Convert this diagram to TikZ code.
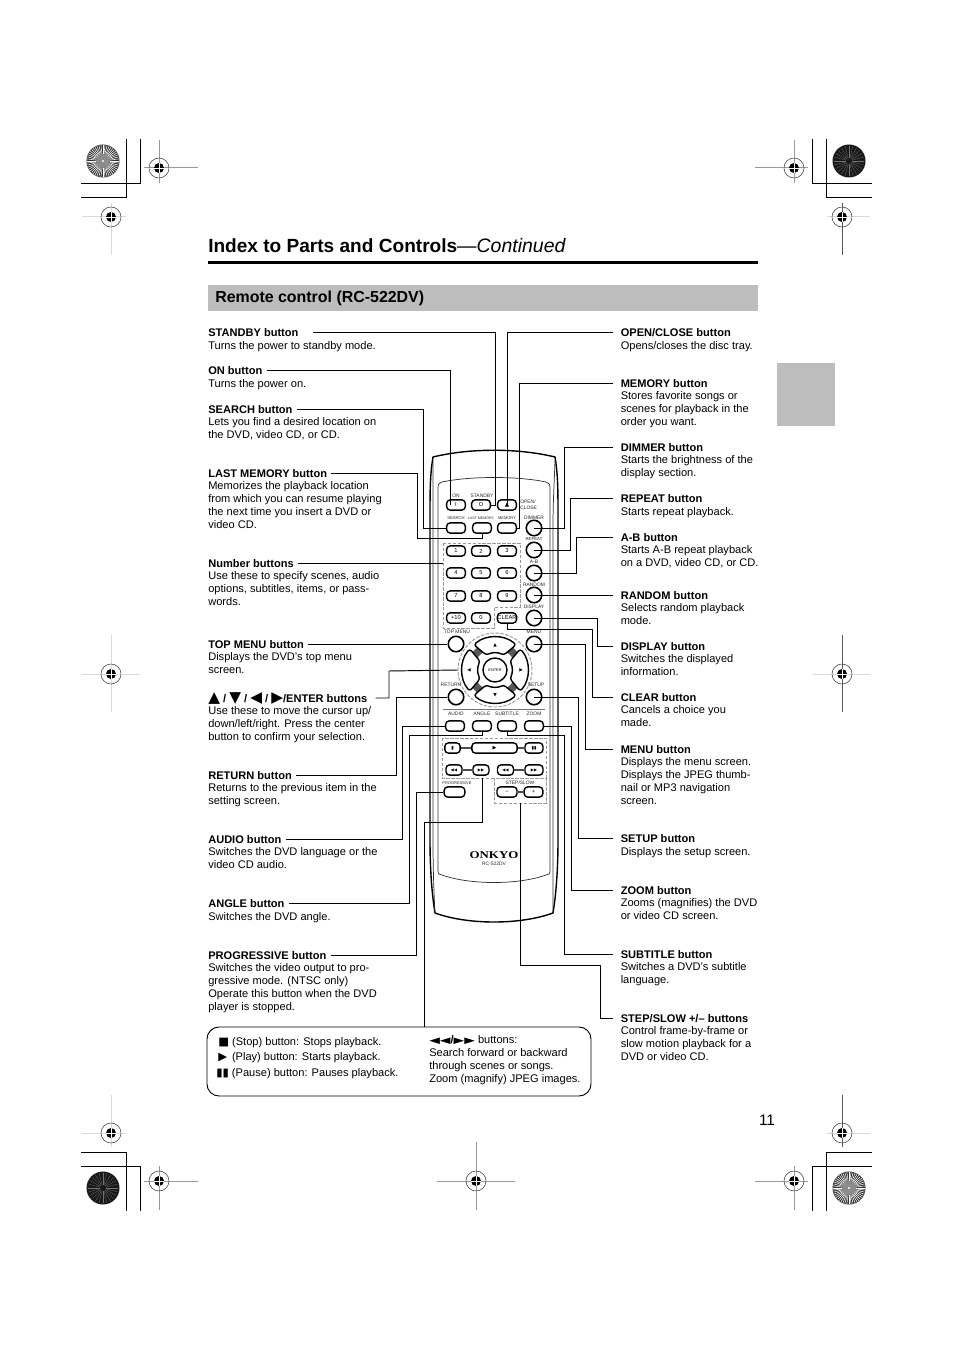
\documentclass[tikz,border=0pt]{standalone}
\usepackage{fontspec}
\setmainfont{Liberation Sans}
\newfontfamily\symfont{DejaVu Sans}
\newfontfamily\logofont{Liberation Serif}
\usetikzlibrary{positioning}
\newcommand\rmtiny{\fontsize{3.7}{4.2}\selectfont}
\newcommand\lblsize{\fontsize{8.3}{9.6}\selectfont}
\newcommand\titlesym[1]{{\symfont\fontsize{11.5}{9}\selectfont #1}}
\newcommand\seeksym[1]{\scalebox{1.6}[1]{\symfont\fontsize{6.5}{9}\selectfont #1}}
\definecolor{barcol}{HTML}{BDBDBD}
\definecolor{marklight}{HTML}{DADADA}
\definecolor{markmid}{HTML}{9A9A9A}
\tikzset{
  lbltitle/.style={anchor=west,inner sep=0pt,font=\lblsize\bfseries,text height=8.22pt,text depth=1.38pt},
  lbltext/.style={anchor=north west,inner sep=0pt,yshift=-1.4pt,align=left,font=\lblsize,execute at begin node=\strut},
  legtext/.style={anchor=west,inner sep=0pt,font=\lblsize},
  leader/.style={draw=black,line width=.72pt},
  croplin/.style={draw=black,line width=.75pt},
  rbtn/.style={draw,fill=white,rounded corners=2.6pt,minimum width=14pt,minimum height=7.6pt,inner sep=0pt,line width=1.05pt,font=\fontsize{4.3}{4.6}\selectfont},
  rcirc/.style={draw,fill=white,circle,minimum size=11.6pt,inner sep=0pt,line width=1.2pt},
  rlbl/.style={inner sep=0pt,font=\rmtiny,text=black!85},
  rgroup/.style={draw=black!40,dash pattern=on 2.6pt off 1.1pt,line width=.7pt},
  rbar/.style={draw=black!70,line width=1.6pt},
  rbody/.style={draw=black,line width=1.05pt,line join=round},
  rpanel/.style={draw=black!80,line width=.55pt,line join=round},
}
\begin{document}
\begin{tikzpicture}[x=0.75pt,y=-0.75pt]
\useasboundingbox (0,0) rectangle (954,1351);
% crop lines
\draw[croplin] (81,198) -- (126,198) -- (126,139);
\draw[croplin] (81,184) -- (140,184) -- (140,139);
\draw[croplin] (872,184) -- (812,184) -- (812,139);
\draw[croplin] (872,198) -- (826,198) -- (826,139);
\draw[croplin] (81,1152) -- (126,1152) -- (126,1211);
\draw[croplin] (81,1166) -- (140,1166) -- (140,1211);
\draw[croplin] (872,1152) -- (826,1152) -- (826,1211);
\draw[croplin] (872,1166) -- (812,1166) -- (812,1211);
% register marks
\foreach \mx/\my/\lx/\rx/\ty/\by/\hcol/\vcol in {
  111/217/82/126/203/255/marklight/marklight, 159/168/144/198/140/183/markmid/markmid,
  794/168/755/808/140/183/markmid/markmid, 842/217/827/870/203/255/marklight/black!65,
  111/674/82/140/635/712/marklight/marklight, 842/674/813/870/635/712/marklight/black!65,
  111/1133/82/126/1095/1147/marklight/marklight, 842/1133/827/870/1095/1147/marklight/black!65,
  159/1181/144/198/1166/1210/markmid/markmid, 476/1181/437/515/1142/1210/markmid/markmid,
  794/1181/755/808/1166/1210/markmid/markmid}{
  \draw[\hcol,line width=.75pt] (\lx,\my) -- (\rx,\my);
  \draw[\vcol,line width=.75pt] (\mx,\ty) -- (\mx,\by);
  \draw[black!75,line width=.4pt] (\mx,\my) circle (10);
  \fill[black] (\mx,\my) circle (5);
  \draw[white,line width=.5pt] (\mx-5,\my) -- (\mx+5,\my) (\mx,\my-5) -- (\mx,\my+5);
}
% star targets
\foreach \sx/\sy in {103/161,849/1188}{
  \fill[black!80] (\sx,\sy) circle (16.5);
  \foreach \ang in {0,7.5,...,352.5}
    \draw[white,line width=.4pt] (\sx,\sy) ++(\ang:7) -- ++(\ang:9);
  \fill[black!45] (\sx,\sy) circle (7);
  \fill[white] (\sx,\sy) circle (1.2);
}
\foreach \sx/\sy in {849/161,103/1188}{
  \fill[black!90] (\sx,\sy) circle (16.5);
  \foreach \ang in {0,15,...,345}
    \draw[black!55,line width=.2pt] (\sx,\sy) ++(\ang:3) -- ++(\ang:12);
}
% header
\node[anchor=base west,inner sep=0pt,font=\fontsize{14.3}{16}\selectfont] (ttitle) at (208,253) {\textbf{Index to Parts and Controls}{\fontsize{14.6}{16}\selectfont\textit{—Continued}}};
\draw[black,line width=2pt] (208,262.5) -- (758,262.5);
\fill[barcol] (208,285) rectangle (758,311);
\node[anchor=west,inner sep=0pt,font=\fontsize{11.95}{14}\selectfont\bfseries] (tsection) at (215,298) {Remote control (RC-522DV)};
\fill[barcol] (777,363) rectangle (835,426);
\node[inner sep=0pt,font=\fontsize{11.5}{13}\selectfont] (pagenum) at (767,1120) {11};
% remote body
\draw[rbody] (433,457) .. controls (470,448) and (518,448) .. (555,457) .. controls (558,475) and (558,490) .. (558,520) -- (558,840) .. controls (558,870) and (556,895) .. (553,913) .. controls (520,925) and (468,925) .. (435,913) .. controls (432,895) and (430,870) .. (430,840) -- (430,520) .. controls (430,490) and (430,475) .. (433,457) -- cycle;
\draw[rpanel] (433,460) .. controls (433,490) and (433,500) .. (433,530) -- (433,840) .. controls (433,870) and (434,895) .. (435,913);
\draw[rpanel] (555,460) .. controls (554,490) and (553,500) .. (553,530) -- (553,840) .. controls (553,870) and (553,895) .. (553,913);
\draw[rpanel] (438,488) .. controls (438,484) and (439,483) .. (442,482) .. controls (470,476) and (518,476) .. (546,482) .. controls (549,483) and (550,484) .. (550,488) -- (550,870) .. controls (550,874) and (549,875) .. (546,875) .. controls (518,885) and (470,885) .. (442,875) .. controls (439,875) and (438,874) .. (438,870) -- cycle;
% groups on the remote
\draw[rgroup] (443,543) -- (520,543) -- (520,607) -- (494,607) -- (494,628) -- (443,628) -- cycle;
\draw[rgroup] (442,738) rectangle (546,778);
\node[rgroup,minimum width=39pt,minimum height=18.75pt,inner sep=0pt] (gstep) at (520,790.5) {};
\coordinate (gnum) at (443,563);
\coordinate (gtrans) at (482,778);
\draw[black!55,line width=.7pt] (443,709) -- (545,709);
\node[rgroup,circle,minimum size=55.5pt,inner sep=0pt] (gpad) at (495,670) {};
% buttons
\foreach \nm/\bx/\by/\txt in {on/456/505/I,standby/481/505/O,openclose/507/505/{\symfont ▲},
  search/456/528/,lastmem/482/528/,memory/507/528/,
  n1/456/551/1,n2/481/551/2,n3/507/551/3,n4/456/573/4,n5/481/573/5,n6/507/573/6,
  n7/456/596/7,n8/481/596/8,n9/507/596/9,nten/456/618/+10,nzero/481/618/0,clear/507/618/CLEAR,
  audio/455/726/,angle/482/726/,subtitle/507/726/,zoom/534/726/}
  \node[rbtn] (b\nm) at (\bx,\by) {\txt};
\foreach \nm/\bx/\by in {dimmer/534/528,repeat/534/550,ab/534/573,random/534/595,display/534/618,
  topmenu/456/644,menu/534/644,return/456/697,setup/534/697}
  \node[rcirc] (b\nm) at (\bx,\by) {};
% direction pad
\draw[black!65,line width=5.5pt] (495,670) circle (25);
\begin{scope}[shift={(495,670)}]
\foreach \ang in {0,90,180,270}
  \draw[fill=white,line width=1.05pt,rounded corners=2.2pt] (\ang-40:33) arc[start angle=\ang-40,end angle=\ang+40,radius=33] -- (\ang+30:17) arc[start angle=\ang+30,end angle=\ang-30,radius=17] -- cycle;
\end{scope}
\node[draw,fill=white,circle,minimum size=18pt,inner sep=0pt,line width=1.05pt,font=\fontsize{2.9}{3}\selectfont] (benter) at (495,670) {ENTER};
\foreach \nm/\bx/\by/\txt in {up/495/645/▲,down/495/695/▼,left/469/670/◀,right/521/670/▶}
  \node[inner sep=0pt,font=\fontsize{3.4}{4}\selectfont\symfont] (a\nm) at (\bx,\by) {\txt};
% transport row
\node[rbtn,minimum width=11.5pt] (bstop) at (452.5,748) {\symfont\fontsize{3.4}{4}\selectfont ▮};
\node[rbtn,minimum width=34pt] (bplay) at (494.5,748) {\symfont\fontsize{3.8}{4}\selectfont ▶};
\node[rbtn,minimum width=13.5pt] (bpause) at (534,748) {\symfont\fontsize{3.4}{4}\selectfont ▮▮};
\node[rbtn,minimum width=12pt] (brew) at (454,770) {\symfont\fontsize{3}{4}\selectfont ◀◀};
\node[rbtn,minimum width=12pt] (bff) at (481,770) {\symfont\fontsize{3}{4}\selectfont ▶▶};
\node[rbtn,minimum width=12pt] (bprev) at (505.5,770) {\symfont\fontsize{3}{4}\selectfont ◀◀};
\node[rbtn,minimum width=13.5pt] (bnext) at (534,770) {\symfont\fontsize{3}{4}\selectfont ▶▶};
\node[rbtn,minimum width=15.5pt] (bprog) at (454.5,792) {};
\node[rbtn,minimum width=15pt] (bminus) at (507,792) {−};
\node[rbtn,minimum width=14pt] (bplus) at (533.5,792) {+};
\draw[rbar] (bstop.east) -- (bplay.west);
\draw[rbar] (bplay.east) -- (bpause.west);
\draw[rbar] (brew.east) -- (bff.west);
\draw[rbar] (bprev.east) -- (bnext.west);
\draw[rbar] (bminus.east) -- (bplus.west);
% remote captions
\foreach \nm/\bx/\by/\txt in {on/456/496/ON,standby/482/496/STANDBY,search/456/518/{\fontsize{3.1}{4}\selectfont SEARCH},
  lastmem/481/518/{\fontsize{2.7}{4}\selectfont LAST MEMORY},memory/507/518/{\fontsize{3}{4}\selectfont MEMORY},
  dimmer/534/518/DIMMER,repeat/534/539/{\fontsize{3.2}{4}\selectfont REPEAT},ab/534/562/A-B,random/534/585/RANDOM,display/534/607/DISPLAY,
  topmenu/457/632/TOP MENU,menu/534/632/MENU,return/451/685/RETURN,setup/536/685/SETUP,audio/456/714/AUDIO,angle/482/714/ANGLE,
  subtitle/507/714/SUBTITLE,zoom/534/714/ZOOM,prog/457/783/{\fontsize{3}{4}\selectfont PROGRESSIVE},step/520/783/{STEP/SLOW}}
  \node[rlbl] (c\nm) at (\bx,\by) {\txt};
\node[rlbl,align=left,anchor=west] (copen) at (520,505) {OPEN/\\CLOSE};
\node[inner sep=0pt,font=\fontsize{7.8}{9}\selectfont\logofont\bfseries] (tlogo) at (494,855) {\scalebox{1.24}[1]{ONKYO}};
\node[rlbl] (tmodel) at (494,864) {RC-522DV};
% left labels
\node[lbltitle] (tstandby) at (208,332) {STANDBY button};
\node[lbltext] (dstandby) at (tstandby.south west) {Turns the power to standby mode.};
\node[lbltitle] (ton) at (208,370) {ON button};
\node[lbltext] (don) at (ton.south west) {Turns the power on.};
\node[lbltitle] (tsearch) at (208,409) {SEARCH button};
\node[lbltext] (dsearch) at (tsearch.south west) {Lets you find a desired location on\\the DVD, video CD, or CD.};
\node[lbltitle] (tlastmem) at (208,473) {LAST MEMORY button};
\node[lbltext] (dlastmem) at (tlastmem.south west) {Memorizes the playback location\\from which you can resume playing\\the next time you insert a DVD or\\video CD.};
\node[lbltitle] (tnumber) at (208,563) {Number buttons};
\node[lbltext] (dnumber) at (tnumber.south west) {Use these to specify scenes, audio\\options, subtitles, items, or pass-\\words.};
\node[lbltitle] (ttopmenu) at (208,644) {TOP MENU button};
\node[lbltext] (dtopmenu) at (ttopmenu.south west) {Displays the DVD’s top menu\\screen.};
\node[lbltitle] (tarrows) at (208,698) {\titlesym{▲}\;/\;\titlesym{▼}\;/\;\titlesym{◀}\;/\;\titlesym{▶}/ENTER buttons};
\node[lbltext] (darrows) at (tarrows.south west) {Use these to move the cursor up/\\down/left/right. Press the center\\button to confirm your selection.};
\node[lbltitle] (treturn) at (208,775) {RETURN button};
\node[lbltext] (dreturn) at (treturn.south west) {Returns to the previous item in the\\setting screen.};
\node[lbltitle] (taudio) at (208,839) {AUDIO button};
\node[lbltext] (daudio) at (taudio.south west) {Switches the DVD language or the\\video CD audio.};
\node[lbltitle] (tangle) at (208,903) {ANGLE button};
\node[lbltext] (dangle) at (tangle.south west) {Switches the DVD angle.};
\node[lbltitle] (tprog) at (208,955) {PROGRESSIVE button};
\node[lbltext] (dprog) at (tprog.south west) {Switches the video output to pro-\\gressive mode. (NTSC only)\\Operate this button when the DVD\\player is stopped.};
% right labels
\node[lbltitle] (topen) at (620.5,332) {OPEN/CLOSE button};
\node[lbltext] (dopen) at (topen.south west) {Opens/closes the disc tray.};
\node[lbltitle] (tmemory) at (620.5,383) {MEMORY button};
\node[lbltext] (dmemory) at (tmemory.south west) {Stores favorite songs or\\scenes for playback in the\\order you want.};
\node[lbltitle] (tdimmer) at (620.5,447) {DIMMER button};
\node[lbltext] (ddimmer) at (tdimmer.south west) {Starts the brightness of the\\display section.};
\node[lbltitle] (trepeat) at (620.5,498) {REPEAT button};
\node[lbltext] (drepeat) at (trepeat.south west) {Starts repeat playback.};
\node[lbltitle] (tab) at (620.5,537) {A-B button};
\node[lbltext] (dab) at (tab.south west) {Starts A-B repeat playback\\on a DVD, video CD, or CD.};
\node[lbltitle] (trandom) at (620.5,595) {RANDOM button};
\node[lbltext] (drandom) at (trandom.south west) {Selects random playback\\mode.};
\node[lbltitle] (tdisplay) at (620.5,646) {DISPLAY button};
\node[lbltext] (ddisplay) at (tdisplay.south west) {Switches the displayed\\information.};
\node[lbltitle] (tclear) at (620.5,697) {CLEAR button};
\node[lbltext] (dclear) at (tclear.south west) {Cancels a choice you\\made.};
\node[lbltitle] (tmenu) at (620.5,749) {MENU button};
\node[lbltext] (dmenu) at (tmenu.south west) {Displays the menu screen.\\Displays the JPEG thumb-\\nail or MP3 navigation\\screen.};
\node[lbltitle] (tsetup) at (620.5,838) {SETUP button};
\node[lbltext] (dsetup) at (tsetup.south west) {Displays the setup screen.};
\node[lbltitle] (tzoom) at (620.5,890) {ZOOM button};
\node[lbltext] (dzoom) at (tzoom.south west) {Zooms (magnifies) the DVD\\or video CD screen.};
\node[lbltitle] (tsubtitle) at (620.5,954) {SUBTITLE button};
\node[lbltext] (dsubtitle) at (tsubtitle.south west) {Switches a DVD’s subtitle\\language.};
\node[lbltitle] (tstep) at (620.5,1018) {STEP/SLOW +/– buttons};
\node[lbltext] (dstep) at (tstep.south west) {Control frame-by-frame or\\slow motion playback for a\\DVD or video CD.};
% legend box
\node[draw,rounded corners=9pt,line width=.7pt,minimum width=288pt,minimum height=51.75pt,inner sep=0pt] (legend) at (399,1061.5) {};
\node[legtext] (lstop) at (218,1042.5) {{\symfont\fontsize{8.6}{9}\selectfont ■} (Stop) button: Stops playback.};
\node[legtext] (lplay) at (218,1057.5) {{\symfont\fontsize{8.6}{9}\selectfont ▶}\, (Play) button: Starts playback.};
\node[legtext] (lpause) at (216,1073.5) {{\symfont\fontsize{8.6}{9}\selectfont ▮▮} (Pause) button: Pauses playback.};
\node[lbltext,yshift=.3pt] (lsearch) at (429,1034) {\seeksym{◀◀}\textbf{/}\seeksym{▶▶} buttons:\\Search forward or backward\\through scenes or songs.\\Zoom (magnify) JPEG images.};
% leaders left
\draw[leader] ([xshift=11pt]tstandby.east) -| (495,505) -- (bstandby.east);
\draw[leader] ([xshift=3pt]ton.east) -| ([xshift=-4.5pt]bon.center);
\draw[leader] ([xshift=3pt]tsearch.east) -| (423,528) -- (bsearch.west);
\draw[leader] ([xshift=3pt]tlastmem.east) -| (417,538) -| (blastmem.south);
\draw[leader] ([xshift=3pt]tnumber.east) -- (gnum);
\draw[leader] ([xshift=3pt]ttopmenu.east) -- (btopmenu.west);
\draw[leader] ([xshift=6pt]tarrows.east) -| (389,671) -- (gpad.west);
\draw[leader] ([xshift=3pt]treturn.east) -| (396,697) -- (breturn.west);
\draw[leader] ([xshift=3pt]taudio.east) -| (402,726) -- (baudio.west);
\draw[leader] ([xshift=3pt]tangle.east) -| (409,735) -| (bangle.south);
\draw[leader] ([xshift=3pt]tprog.east) -| (416,792) -- (bprog.west);
\draw[leader] (legend.north -| 424,0) -- (424,822) -| (gtrans);
% leaders right
\draw[leader] ([xshift=-6pt]topen.west) -| (bopenclose.center);
\draw[leader] ([xshift=-6pt]tmemory.west) -| (519,528) -- (bmemory.east);
\draw[leader] ([xshift=-6pt]tdimmer.west) -| (564,528) -- (bdimmer.center);
\draw[leader] ([xshift=-6pt]trepeat.west) -| (570,550) -- (brepeat.center);
\draw[leader] ([xshift=-6pt]tab.west) -| (576,573) -- (bab.center);
\draw[leader] ([xshift=-6pt]trandom.west) -- (brandom.center);
\draw[leader] ([xshift=-6pt]tdisplay.west) -| (597,618) -- (bdisplay.center);
\draw[leader] ([xshift=-6pt]tclear.west) -| (592,629) -| (bclear.south);
\draw[leader] ([xshift=-6pt]tmenu.west) -| (585,644) -- (bmenu.center);
\draw[leader] ([xshift=-6pt]tsetup.west) -| (578,697) -- (bsetup.center);
\draw[leader] ([xshift=-6pt]tzoom.west) -| (571,726) -- (bzoom.east);
\draw[leader] ([xshift=-6pt]tsubtitle.west) -| (564,735) -| (bsubtitle.south);
\draw[leader] ([xshift=-6pt]tstep.west) -| (600,965) -| (gstep.south);
\end{tikzpicture}
\end{document}
